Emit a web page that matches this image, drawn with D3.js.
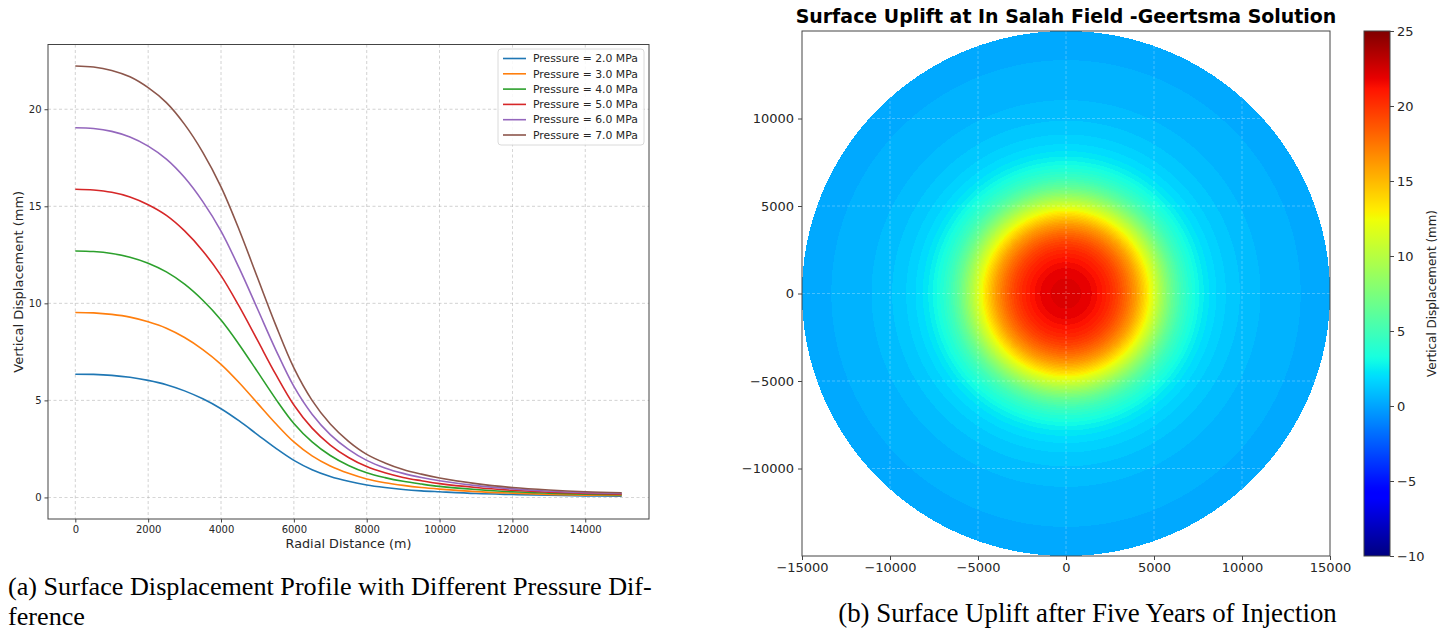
<!DOCTYPE html>
<html><head><meta charset="utf-8">
<script src="https://cdn.jsdelivr.net/npm/d3@7"></script>
<style>body{margin:0;background:#fff;} svg{display:block;}</style>
</head><body>
<svg id="fig" width="1450" height="631"></svg>
<script>
// ---------------- DATA ----------------
const radialDistance = [0,500,1000,1500,2000,2500,3000,3500,4000,4500,5000,5500,6000,6500,7000,7500,8000,8500,9000,9500,10000,11000,12000,13000,14000,15000];
const dispP2 = [6.35,6.34,6.29,6.19,6.03,5.81,5.49,5.08,4.57,3.94,3.24,2.54,1.91,1.43,1.08,0.83,0.64,0.51,0.41,0.34,0.29,0.20,0.15,0.11,0.08,0.07];
const dispP3 = [9.53,9.51,9.43,9.29,9.05,8.72,8.24,7.62,6.86,5.91,4.86,3.81,2.86,2.14,1.62,1.24,0.95,0.76,0.62,0.51,0.43,0.30,0.22,0.16,0.12,0.10];
const dispP4 = [12.70,12.67,12.57,12.38,12.07,11.62,10.99,10.16,9.14,7.87,6.48,5.08,3.81,2.86,2.16,1.65,1.27,1.02,0.83,0.69,0.57,0.41,0.29,0.22,0.17,0.14];
const dispP5 = [15.88,15.84,15.72,15.48,15.08,14.53,13.73,12.70,11.43,9.84,8.10,6.35,4.76,3.57,2.70,2.06,1.59,1.27,1.03,0.86,0.71,0.51,0.37,0.27,0.21,0.17];
const dispP6 = [19.05,19.01,18.86,18.57,18.10,17.43,16.48,15.24,13.72,11.81,9.72,7.62,5.72,4.29,3.24,2.48,1.91,1.52,1.24,1.03,0.86,0.61,0.44,0.32,0.25,0.21];
const dispP7 = [22.23,22.18,22.00,21.67,21.11,20.34,19.22,17.78,16.00,13.78,11.33,8.89,6.67,5.00,3.78,2.89,2.22,1.78,1.44,1.20,1.00,0.71,0.51,0.38,0.29,0.24];
const seriesNames = ["Pressure = 2.0 MPa","Pressure = 3.0 MPa","Pressure = 4.0 MPa","Pressure = 5.0 MPa","Pressure = 6.0 MPa","Pressure = 7.0 MPa"];
const seriesValues = [dispP2, dispP3, dispP4, dispP5, dispP6, dispP7];
const seriesColors = ["#1f77b4","#ff7f0e","#2ca02c","#d62728","#9467bd","#8c564b"];
const leftXTicks = [0,2000,4000,6000,8000,10000,12000,14000];
const leftYTicks = [0,5,10,15,20];
const mapXTicks = [-15000,-10000,-5000,0,5000,10000,15000];
const mapYTicks = [-10000,-5000,0,5000,10000];
const cbarTicks = [-10,-5,0,5,10,15,20,25];
const mapProfile = dispP7; // uplift field shown on the map (7 MPa case)
const mapRadius = 15000;

// ---------------- HELPERS ----------------
const svg = d3.select("#fig");
const minus = s => String(s).replace("-", "\u2212");
function fitWidth(sel, w) {
  const cur = sel.node().getComputedTextLength();
  const fs = parseFloat(sel.attr("font-size"));
  sel.attr("font-size", fs * w / cur);
}
// matplotlib 'jet'
const jR = d3.scaleLinear().domain([0,0.35,0.66,0.89,1]).range([0,0,1,1,0.5]).clamp(true);
const jG = d3.scaleLinear().domain([0,0.125,0.375,0.64,0.91,1]).range([0,0,1,1,0,0]).clamp(true);
const jB = d3.scaleLinear().domain([0,0.11,0.34,0.65,1]).range([0.5,1,1,0,0]).clamp(true);
const jet = t => [Math.round(jR(t)*255), Math.round(jG(t)*255), Math.round(jB(t)*255)];
const FONT = "DejaVu Sans, sans-serif";

// ---------------- LEFT CHART ----------------
const L = {x0:48, x1:649, y0:44.5, y1:519};
const lx = d3.scaleLinear().domain([-750, 15750]).range([L.x0, L.x1]);
const ly = d3.scaleLinear().domain([-1.111, 23.336]).range([L.y1, L.y0]);
const gl = svg.append("g");
// grid
gl.selectAll(".gx").data(leftXTicks).join("line")
  .attr("x1", d=>lx(d)).attr("x2", d=>lx(d)).attr("y1", L.y0).attr("y2", L.y1)
  .attr("stroke", "#b0b0b0").attr("stroke-width", 0.8).attr("stroke-dasharray", "3,2.5").attr("opacity", 0.7);
gl.selectAll(".gy").data(leftYTicks).join("line")
  .attr("x1", L.x0).attr("x2", L.x1).attr("y1", d=>ly(d)).attr("y2", d=>ly(d))
  .attr("stroke", "#b0b0b0").attr("stroke-width", 0.8).attr("stroke-dasharray", "3,2.5").attr("opacity", 0.7);
// lines
const lineGen = d3.line().x((d,i)=>lx(radialDistance[i])).y(d=>ly(d)).curve(d3.curveCatmullRom.alpha(0.5));
gl.selectAll(".series").data(seriesValues).join("path")
  .attr("d", d=>lineGen(d)).attr("fill", "none")
  .attr("stroke", (d,i)=>seriesColors[i]).attr("stroke-width", 1.6);
// frame
gl.append("rect").attr("x", L.x0).attr("y", L.y0).attr("width", L.x1-L.x0).attr("height", L.y1-L.y0)
  .attr("fill", "none").attr("stroke", "#444").attr("stroke-width", 1);
// axes ticks
const lxAxis = gl.append("g").attr("transform", `translate(0,${L.y1})`)
  .call(d3.axisBottom(lx).tickValues(leftXTicks).tickSize(3.5).tickPadding(3).tickFormat(d3.format("d")));
const lyAxis = gl.append("g").attr("transform", `translate(${L.x0},0)`)
  .call(d3.axisLeft(ly).tickValues(leftYTicks).tickSize(3.5).tickPadding(3).tickFormat(d3.format("d")));
[lxAxis, lyAxis].forEach(a => {
  a.select(".domain").remove();
  a.selectAll("line").attr("stroke", "#444");
  a.selectAll("text").attr("font-family", FONT).attr("font-size", 10).attr("fill", "#262626");
});
const xl = gl.append("text").attr("x", (L.x0+L.x1)/2).attr("y", 548).attr("text-anchor", "middle")
  .attr("font-family", FONT).attr("font-size", 13).attr("fill", "#262626").text("Radial Distance (m)");
fitWidth(xl, 126);
const yl = gl.append("text").attr("transform", `translate(23,${(L.y0+L.y1)/2}) rotate(-90)`).attr("text-anchor", "middle")
  .attr("font-family", FONT).attr("font-size", 13).attr("fill", "#262626").text("Vertical Displacement (mm)");
fitWidth(yl, 182);
// legend
const lg = gl.append("g");
lg.append("rect").attr("x", 498).attr("y", 49).attr("width", 146).attr("height", 96).attr("rx", 3)
  .attr("fill", "#fff").attr("fill-opacity", 0.85).attr("stroke", "#d0d0d0").attr("stroke-width", 0.8);
const li = lg.selectAll(".li").data(seriesNames).join("g")
  .attr("transform", (d,i)=>`translate(0,${58.5 + i*15.3})`);
li.append("line").attr("x1", 503).attr("x2", 526).attr("stroke", (d,i)=>seriesColors[i]).attr("stroke-width", 1.6);
const lt = li.append("text").attr("x", 533).attr("dy", "0.35em").attr("font-family", FONT).attr("font-size", 10.5)
  .attr("fill", "#262626").text(d=>d);
fitWidth(d3.select(lt.nodes()[0]), 105);
lt.attr("font-size", d3.select(lt.nodes()[0]).attr("font-size"));

// ---------------- RIGHT CHART (MAP) ----------------
const R = {x0:802, x1:1330, y0:31, y1:556};
const mx = d3.scaleLinear().domain([-15000, 15000]).range([R.x0, R.x1]);
const my = d3.scaleLinear().domain([-15000, 15000]).range([R.y1, R.y0]);
const profile = d3.scaleLinear().domain(radialDistance).range(mapProfile).clamp(true);
const cDomain = [-10, 25];
const tOf = v => (v - cDomain[0]) / (cDomain[1] - cDomain[0]);
const W = R.x1 - R.x0, H = R.y1 - R.y0;
const cv = document.createElement("canvas"); cv.width = W; cv.height = H;
const ctx = cv.getContext("2d");
const img = ctx.createImageData(W, H);
const step = 0.35;
for (let py = 0; py < H; py++) {
  for (let px = 0; px < W; px++) {
    const dx = mx.invert(R.x0 + px + 0.5), dy = my.invert(R.y0 + py + 0.5);
    const r = Math.hypot(dx, dy);
    const k = 4*(py*W + px);
    if (r > mapRadius) { img.data[k+3] = 0; continue; }
    let v = profile(r);
    v = (Math.floor(v/step) + 0.5) * step;
    const c = jet(tOf(v));
    img.data[k] = c[0]; img.data[k+1] = c[1]; img.data[k+2] = c[2]; img.data[k+3] = 255;
  }
}
ctx.putImageData(img, 0, 0);
const gr = svg.append("g");
gr.append("image").attr("x", R.x0).attr("y", R.y0).attr("width", W).attr("height", H)
  .attr("href", cv.toDataURL());
// grid (faint white dashed)
gr.selectAll(".mgx").data(mapXTicks.slice(1,-1)).join("line")
  .attr("x1", d=>mx(d)).attr("x2", d=>mx(d)).attr("y1", R.y0).attr("y2", R.y1)
  .attr("stroke", "#fff").attr("stroke-opacity", 0.35).attr("stroke-width", 0.8).attr("stroke-dasharray", "3,2");
gr.selectAll(".mgy").data(mapYTicks).join("line")
  .attr("x1", R.x0).attr("x2", R.x1).attr("y1", d=>my(d)).attr("y2", d=>my(d))
  .attr("stroke", "#fff").attr("stroke-opacity", 0.35).attr("stroke-width", 0.8).attr("stroke-dasharray", "3,2");
gr.append("rect").attr("x", R.x0).attr("y", R.y0).attr("width", W).attr("height", H)
  .attr("fill", "none").attr("stroke", "#444").attr("stroke-width", 1);
const mxAxis = gr.append("g").attr("transform", `translate(0,${R.y1})`)
  .call(d3.axisBottom(mx).tickValues(mapXTicks).tickSize(4).tickPadding(3).tickFormat(d=>minus(d)));
const myAxis = gr.append("g").attr("transform", `translate(${R.x0},0)`)
  .call(d3.axisLeft(my).tickValues(mapYTicks).tickSize(4).tickPadding(4).tickFormat(d=>minus(d)));
[mxAxis, myAxis].forEach(a => {
  a.select(".domain").remove();
  a.selectAll("line").attr("stroke", "#444");
  a.selectAll("text").attr("font-family", FONT).attr("font-size", 13).attr("fill", "#262626");
});
const title = gr.append("text").attr("x", (R.x0+R.x1)/2).attr("y", 23).attr("text-anchor", "middle")
  .attr("font-family", FONT).attr("font-weight", "bold").attr("font-size", 17).attr("fill", "#000")
  .text("Surface Uplift at In Salah Field -Geertsma Solution");
fitWidth(title, 541);

// colorbar
const C = {x0:1364, x1:1390, y0:31, y1:556};
const cy = d3.scaleLinear().domain(cDomain).range([C.y1, C.y0]);
const defs = svg.append("defs");
const lgGrad = defs.append("linearGradient").attr("id", "jetgrad").attr("x1", 0).attr("y1", 1).attr("x2", 0).attr("y2", 0);
lgGrad.selectAll("stop").data(d3.range(0, 1.0001, 0.01)).join("stop")
  .attr("offset", d=>d).attr("stop-color", d=>{ const c = jet(d); return `rgb(${c[0]},${c[1]},${c[2]})`; });
gr.append("rect").attr("x", C.x0).attr("y", C.y0).attr("width", C.x1-C.x0).attr("height", C.y1-C.y0)
  .attr("fill", "url(#jetgrad)").attr("stroke", "#444").attr("stroke-width", 1);
const cAxis = gr.append("g").attr("transform", `translate(${C.x1},0)`)
  .call(d3.axisRight(cy).tickValues(cbarTicks).tickSize(4).tickPadding(3).tickFormat(d=>minus(d)));
cAxis.select(".domain").remove();
cAxis.selectAll("line").attr("stroke", "#444");
cAxis.selectAll("text").attr("font-family", FONT).attr("font-size", 13).attr("fill", "#262626");
const cl = gr.append("text").attr("transform", `translate(1436,${(C.y0+C.y1)/2}) rotate(-90)`).attr("text-anchor", "middle")
  .attr("font-family", FONT).attr("font-size", 12).attr("fill", "#262626").text("Vertical Displacement (mm)");
fitWidth(cl, 167);

// ---------------- CAPTIONS ----------------
const SERIF = "Liberation Serif, DejaVu Serif, serif";
const capA1 = svg.append("text").attr("x", 8).attr("y", 595).attr("font-family", SERIF).attr("font-size", 22)
  .attr("fill", "#000").text("(a) Surface Displacement Profile with Different Pressure Dif-");
fitWidth(capA1, 644);
const fsA = capA1.attr("font-size");
svg.append("text").attr("x", 8).attr("y", 625).attr("font-family", SERIF).attr("font-size", fsA)
  .attr("fill", "#000").text("ference");
const capB = svg.append("text").attr("x", 1087.5).attr("y", 621.5).attr("text-anchor", "middle").attr("font-family", SERIF)
  .attr("font-size", 22).attr("fill", "#000").text("(b) Surface Uplift after Five Years of Injection");
fitWidth(capB, 499);
</script>
</body></html>
